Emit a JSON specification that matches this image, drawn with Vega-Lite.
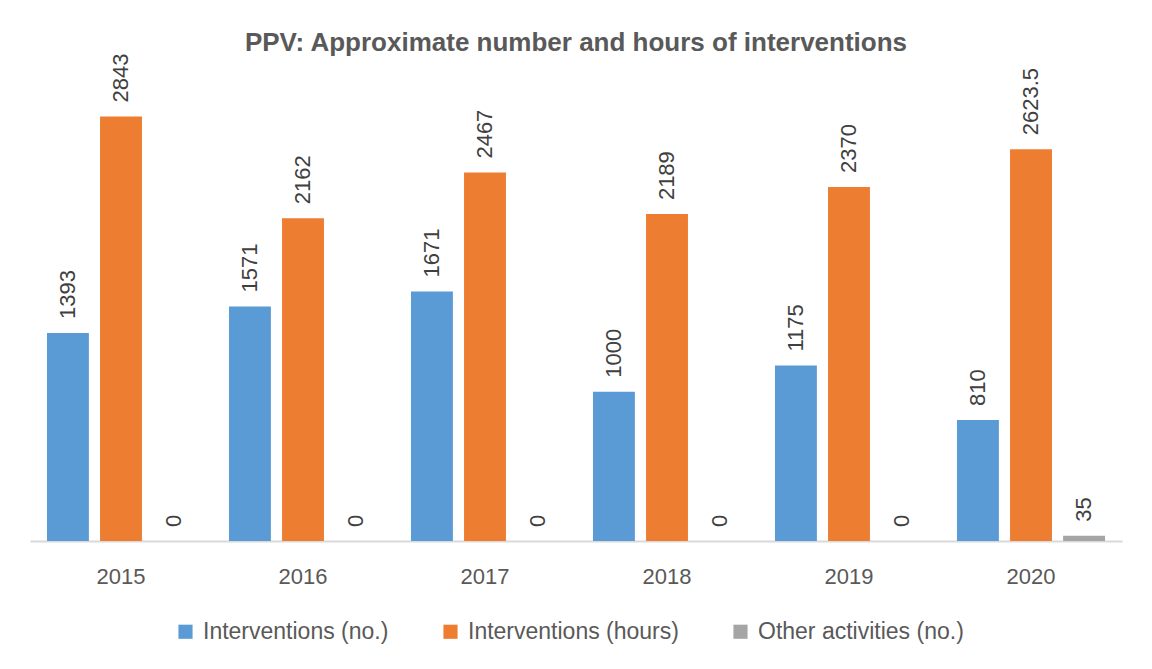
{
  "$schema": "https://vega.github.io/schema/vega-lite/v6.json",
  "autosize": "none",
  "width": 1092,
  "height": 448,
  "padding": {"left": 30, "top": 93, "right": 30, "bottom": 128},
  "background": "white",
  "title": {
    "text": "PPV: Approximate number and hours of interventions",
    "font": "Liberation Sans",
    "fontSize": 26,
    "fontWeight": "bold",
    "color": "#595959",
    "anchor": "middle",
    "offset": -2
  },
  "data": {
    "values": [
      {"year": "2015", "series": "Interventions (no.)", "value": 1393, "label": "1393"},
      {"year": "2015", "series": "Interventions (hours)", "value": 2843, "label": "2843"},
      {"year": "2015", "series": "Other activities (no.)", "value": 0, "label": "0"},
      {"year": "2016", "series": "Interventions (no.)", "value": 1571, "label": "1571"},
      {"year": "2016", "series": "Interventions (hours)", "value": 2162, "label": "2162"},
      {"year": "2016", "series": "Other activities (no.)", "value": 0, "label": "0"},
      {"year": "2017", "series": "Interventions (no.)", "value": 1671, "label": "1671"},
      {"year": "2017", "series": "Interventions (hours)", "value": 2467, "label": "2467"},
      {"year": "2017", "series": "Other activities (no.)", "value": 0, "label": "0"},
      {"year": "2018", "series": "Interventions (no.)", "value": 1000, "label": "1000"},
      {"year": "2018", "series": "Interventions (hours)", "value": 2189, "label": "2189"},
      {"year": "2018", "series": "Other activities (no.)", "value": 0, "label": "0"},
      {"year": "2019", "series": "Interventions (no.)", "value": 1175, "label": "1175"},
      {"year": "2019", "series": "Interventions (hours)", "value": 2370, "label": "2370"},
      {"year": "2019", "series": "Other activities (no.)", "value": 0, "label": "0"},
      {"year": "2020", "series": "Interventions (no.)", "value": 810, "label": "810"},
      {"year": "2020", "series": "Interventions (hours)", "value": 2623.5, "label": "2623.5"},
      {"year": "2020", "series": "Other activities (no.)", "value": 35, "label": "35"}
    ]
  },
  "encoding": {
    "x": {
      "field": "year",
      "type": "nominal",
      "title": null,
      "scale": {"paddingInner": 0, "paddingOuter": 0},
      "axis": {
        "labelAngle": 0,
        "labelFont": "Liberation Sans",
        "labelFontSize": 22,
        "labelColor": "#595959",
        "labelPadding": 25,
        "ticks": false,
        "domainColor": "#d9d9d9",
        "domainWidth": 2
      }
    },
    "xOffset": {
      "field": "series",
      "type": "nominal",
      "sort": ["Interventions (no.)", "Interventions (hours)", "Other activities (no.)"],
      "scale": {"paddingInner": 0.21, "paddingOuter": 0.32}
    },
    "y": {
      "field": "value",
      "type": "quantitative",
      "scale": {"domain": [0, 3000]},
      "axis": null
    }
  },
  "layer": [
    {
      "mark": {"type": "bar"},
      "encoding": {
        "color": {
          "field": "series",
          "type": "nominal",
          "sort": ["Interventions (no.)", "Interventions (hours)", "Other activities (no.)"],
          "scale": {
            "domain": ["Interventions (no.)", "Interventions (hours)", "Other activities (no.)"],
            "range": ["#5B9BD5", "#ED7D31", "#A5A5A5"]
          },
          "legend": {
            "title": null,
            "orient": "none",
            "legendX": 144,
            "legendY": 527,
            "direction": "horizontal",
            "symbolType": "square",
            "symbolSize": 200,
            "symbolStrokeWidth": 0,
            "labelFont": "Liberation Sans",
            "labelFontSize": 23,
            "labelColor": "#595959",
            "labelLimit": 400,
            "columnPadding": 50,
            "labelOffset": 6
          }
        }
      }
    },
    {
      "mark": {
        "type": "text",
        "angle": 270,
        "align": "left",
        "baseline": "middle",
        "dx": 14,
        "font": "Liberation Sans",
        "fontSize": 22,
        "color": "#404040"
      },
      "encoding": {
        "text": {"field": "label", "type": "nominal"}
      }
    }
  ],
  "config": {"view": {"stroke": null}}
}
